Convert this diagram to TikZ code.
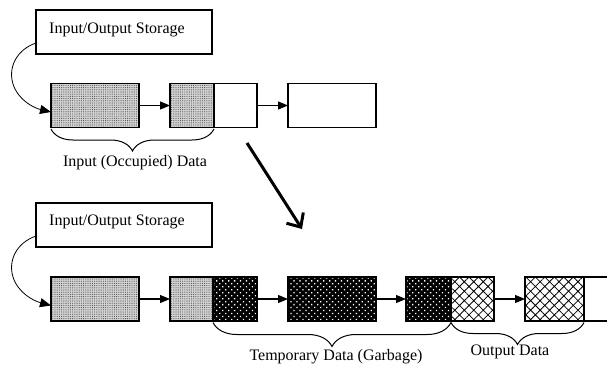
\documentclass[tikz,border=0pt]{standalone}
\usepackage{fontspec}
\setmainfont{Liberation Serif}
\usetikzlibrary{arrows.meta,patterns.meta,decorations.pathreplacing,calc}
\begin{document}
\begin{tikzpicture}[x=1pt,y=-1pt,
  every node/.style={font=\fontsize{16}{19}\selectfont},
  box/.style={draw,line width=1.2pt,rectangle,inner sep=0pt,outer sep=0pt,minimum height=44pt},
  iobox/.style={draw,line width=1.2pt,rectangle,inner sep=0pt,outer sep=0pt,minimum width=176pt,minimum height=44pt},
  light/.style={preaction={fill=gray!35},preaction={pattern={Dots[distance=2.2pt,radius=0.55pt]},pattern color=black!70}},
  dark/.style={preaction={fill=black},preaction={pattern={Dots[distance=4.2pt,radius=0.9pt,angle=45]},pattern color=white}},
  cross/.style={preaction={fill=white},preaction={pattern={Hatch[distance=6.7pt,angle=45,line width=0.8pt]},pattern color=black}},
  link/.style={line width=1.1pt,-{Triangle[length=10pt,width=8pt]}},
  curvy/.style={line width=0.8pt,-{Triangle[length=11pt,width=9pt]}},
  brc/.style={line width=1pt,decorate,decoration={brace,amplitude=22pt}},
  txt/.style={inner sep=0pt}
]
\useasboundingbox (0,0) rectangle (607,367);

% ---------- top diagram ----------
\node[iobox] (io1) at (124,32) {};
\node[txt,anchor=west] (io1t) at ($(io1.west)+(13,-2)$) {Input/Output Storage};

\node[box,light,minimum width=88pt] (a1) at (95,105.5) {};
\node[box,light,minimum width=44pt] (a2l) at (192,105.5) {};
\node[box,minimum width=43pt] (a2r) at (235.5,105.5) {};
\node[box,minimum width=88pt] (a3) at (332,105.5) {};

\draw[link] (a1.east) -- (a2l.west);
\draw[link] (a2r.east) -- (a3.west);

\coordinate (s1) at ($(io1.south west)+(0,-11)$);
\coordinate (e1) at ($(a1.west)+(0,6.5)$);
\draw[curvy] (s1) .. controls (16,50) and (8,68) .. (13,84) .. controls (18,100) and (34,108) .. (e1);

\coordinate (b1l) at ($(a1.south west)+(0,1.5)$);
\coordinate (b1r) at ($(a2l.south east)+(0,1.5)$);
\draw[brc] (b1r) -- (b1l);
\node[txt] (lab1) at (135,163) {Input (Occupied) Data};

% ---------- transition arrow ----------
\coordinate (ts) at (247,143);
\coordinate (te) at (302,229);
\draw[line width=3pt,-{Straight Barb[length=11pt,width=20pt,line width=3pt]}] (ts) -- (te);

% ---------- bottom diagram ----------
\node[iobox] (io2) at (124,225) {};
\node[txt,anchor=west] (io2t) at ($(io2.west)+(13,-3)$) {Input/Output Storage};

\node[box,light,minimum width=88pt] (b1) at (95,299) {};
\node[box,light,minimum width=43pt] (b2l) at (191.5,299) {};
\node[box,dark,minimum width=44pt] (b2r) at (235,299) {};
\node[box,dark,minimum width=88pt] (b3) at (332,299) {};
\node[box,dark,minimum width=45pt] (b4l) at (428.5,299) {};
\node[box,cross,minimum width=43pt] (b4r) at (472.5,299) {};
\node[box,cross,minimum width=59pt] (b5l) at (554.5,299) {};
\node[box,minimum width=30pt] (b5r) at (599,299) {};

\draw[link] (b1.east) -- (b2l.west);
\draw[link] (b2r.east) -- (b3.west);
\draw[link] (b3.east) -- (b4l.west);
\draw[link] (b4r.east) -- (b5l.west);

\coordinate (s2) at ($(io2.south west)+(0,-11)$);
\coordinate (e2) at ($(b1.west)+(0,6.5)$);
\draw[curvy] (s2) .. controls (16,243) and (8,261) .. (13,277) .. controls (18,293) and (34,301) .. (e2);

\coordinate (g1) at ($(b2r.south west)+(0,1.5)$);
\coordinate (g2) at ($(b4l.south east)+(0,1.5)$);
\coordinate (o2) at ($(b5l.south east)+(0,1.5)$);
\draw[brc,decoration={brace,amplitude=24pt}] (g2) -- (g1);
\draw[brc,decoration={brace,amplitude=22pt}] (o2) -- (g2);
\node[txt] (lab2) at (336,357) {Temporary Data (Garbage)};
\node[txt] (lab3) at (510,352) {Output Data};
\end{tikzpicture}
\end{document}
